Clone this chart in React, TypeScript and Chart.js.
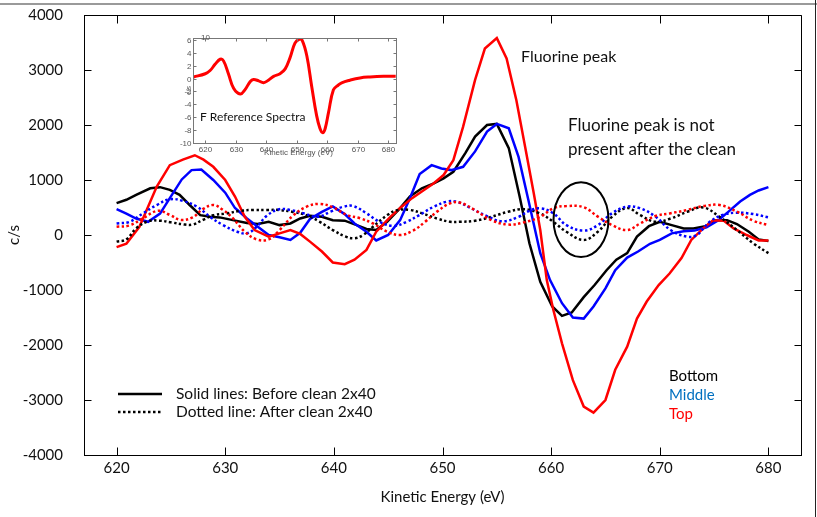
import React, { useEffect, useRef } from "react";
import { Chart, registerables } from "chart.js";
Chart.register(...registerables);

const FONT = "Lato, 'Open Sans', sans-serif";

// ---------- main chart axes ----------
const X_MIN = 617;
const X_MAX = 683;
const X_TICKS = [620, 630, 640, 650, 660, 670, 680];
const Y_TICKS = [-4000, -3000, -2000, -1000, 0, 1000, 2000, 3000, 4000];

// ---------- solid lines: before clean ----------
const topBeforeE = [620, 620.9, 622.1, 623.7, 624.9, 626.1, 627.2, 628, 628.9, 630, 630.9, 631.8, 632.7, 634, 635, 636, 636.9, 637.8, 638.9, 639.9, 641, 641.9, 643, 643.9, 645.2, 646.1, 647.2, 648.1, 649.2, 650.1, 651, 651.9, 653, 653.9, 655, 655.9, 656.8, 657.6, 658.4, 659, 659.6, 660.2, 661, 662, 663, 663.9, 665, 665.9, 667, 667.9, 668.8, 669.9, 670.9, 672, 672.9, 674, 674.9, 675.9, 676.8, 678, 679.1, 680];
const topBefore = [-220, -160, 150, 880, 1270, 1370, 1450, 1370, 1240, 1000, 700, 330, 90, -30, 30, 90, 20, -120, -300, -500, -530, -450, -270, 60, 330, 490, 670, 790, 940, 1090, 1360, 1970, 2820, 3390, 3580, 3210, 2450, 1610, 760, 90, -820, -1360, -1970, -2640, -3120, -3230, -3000, -2450, -2030, -1520, -1210, -910, -700, -420, -90, 120, 270, 260, 120, 0, -100, -100];

const bottomBeforeE = [620, 620.9, 621.8, 623.1, 624, 624.9, 625.8, 626.7, 627.7, 628.6, 629.5, 630.7, 632, 633, 634, 635, 636, 636.9, 637.8, 638.9, 639.9, 641, 642.1, 643, 643.9, 644.9, 646.1, 647, 648.1, 649.2, 650.1, 651, 652.1, 653, 654.1, 655, 656.1, 657.1, 658, 659, 660.1, 661, 661.9, 663, 664, 665.1, 666, 667, 667.9, 669, 670, 671.1, 672.2, 673.1, 674.2, 675.1, 676.2, 677.1, 678.2, 679.1, 680];
const bottomBefore = [580, 640, 730, 850, 870, 820, 730, 550, 360, 330, 320, 270, 220, 200, 240, 180, 210, 300, 350, 330, 270, 260, 180, 110, 90, 240, 490, 700, 850, 940, 1030, 1150, 1490, 1790, 2000, 2020, 1580, 700, -150, -850, -1300, -1470, -1410, -1130, -910, -640, -450, -330, -30, 160, 240, 180, 120, 120, 160, 270, 270, 200, 60, -80, -110];

const middleBeforeE = [620, 620.9, 621.8, 622.9, 624, 624.9, 626, 626.9, 627.8, 628.9, 630, 630.9, 632, 633, 634, 635, 636, 636.9, 637.8, 638.9, 639.9, 641, 641.9, 643, 643.9, 645, 646.1, 647, 647.9, 649, 649.9, 650.8, 651.9, 653, 654.1, 655, 656.1, 657, 657.9, 659, 659.9, 661, 662, 663, 663.9, 665, 665.9, 667, 668, 669.1, 670, 671.1, 672.2, 673.2, 674.3, 675.4, 676.3, 677.4, 678.3, 679.1, 680];
const middleBefore = [470, 390, 300, 240, 390, 670, 1010, 1180, 1190, 1000, 770, 490, 300, 150, 0, -40, -90, 40, 290, 420, 520, 380, 210, 60, -100, 0, 270, 670, 1110, 1270, 1210, 1180, 1240, 1520, 1880, 2020, 1940, 1420, 640, -330, -820, -1240, -1500, -1520, -1300, -970, -640, -410, -300, -160, -90, 30, 70, 80, 140, 270, 420, 610, 730, 810, 870];

// ---------- dotted lines: after clean ----------
const topAfterE = [620, 621.2, 622.4, 623.8, 624.9, 625.9, 627, 627.9, 628.9, 629.8, 630.7, 631.8, 632.9, 634, 635, 636.2, 637.5, 638.7, 639.9, 641.2, 642.4, 643.6, 644.9, 646.1, 647.3, 648.4, 649.5, 650.7, 651.6, 653, 654.5, 656, 657.5, 659, 660.2, 661.4, 663, 664.3, 665.6, 667, 668.2, 669.6, 671, 672.5, 674, 675.5, 677.1, 678.6, 680];
const topAfter = [150, 175, 300, 440, 365, 275, 320, 465, 545, 455, 305, 60, -80, -80, 90, 345, 515, 565, 505, 365, 305, 210, 60, 0, 80, 240, 425, 575, 590, 450, 270, 190, 230, 330, 485, 525, 505, 335, 180, 90, 210, 345, 395, 455, 525, 545, 425, 260, 180];

const bottomAfterE = [620, 620.9, 621.8, 622.9, 624, 625, 626.3, 627, 628, 628.9, 630.1, 631.4, 632.6, 633.8, 635, 636.2, 637.5, 638.7, 639.9, 641.1, 641.9, 642.7, 643.6, 644.9, 645.8, 647, 648.2, 649.5, 650.7, 651.6, 653, 654.5, 656, 657.5, 659, 660.2, 661.4, 663, 664.3, 665.6, 667, 668.2, 669.6, 671, 672.5, 674, 675.5, 677.1, 678.6, 680];
const bottomAfter = [-120, -80, 120, 250, 260, 230, 190, 190, 280, 360, 390, 440, 455, 455, 455, 420, 360, 240, 90, -30, -60, 0, 150, 360, 450, 455, 390, 300, 240, 240, 260, 330, 420, 470, 390, 240, 60, -90, 60, 330, 490, 360, 240, 300, 420, 500, 330, 90, -150, -330];

const middleAfterE = [620, 621.2, 622.4, 623.7, 624.9, 626.1, 627.4, 628.6, 629.8, 631.1, 632, 632.9, 633.8, 634.9, 636, 637.2, 638.5, 639.7, 640.9, 641.8, 643, 644.2, 645.5, 646.7, 647.9, 649.2, 650.4, 651.3, 652.5, 654, 655.5, 657, 658, 659, 660.2, 661.4, 663, 664.3, 665.6, 667, 668.2, 669.6, 671, 672.5, 673.4, 674.6, 675.8, 677.1, 678.6, 680];
const middleAfter = [210, 240, 390, 545, 650, 620, 515, 330, 180, 60, 30, 150, 345, 465, 455, 395, 330, 425, 515, 525, 395, 240, 165, 240, 365, 515, 605, 605, 500, 350, 250, 330, 440, 485, 395, 180, 80, 180, 395, 515, 485, 335, 90, -30, 0, 240, 365, 405, 380, 320];

// ---------- inset: F reference spectra ----------
const INSET_X_MIN = 616;
const INSET_X_MAX = 682.5;
const INSET_Y_MIN = -10;
const INSET_Y_MAX = 6.3;
const INSET_X_TICKS = [620, 630, 640, 650, 660, 670, 680];
const INSET_Y_TICKS = [-10, -8, -6, -4, -2, 0, 2, 4, 6];
const refE = [616.2, 620, 621.6, 623.3, 624.9, 626, 627.6, 629.3, 631.5, 633, 634.7, 635.8, 637.5, 639.1, 640.7, 642.4, 644.5, 646.2, 647.8, 649.4, 650.8, 651.8, 653.3, 654.9, 656.5, 657.6, 658.5, 659.3, 660.4, 662, 663.6, 664.7, 667.4, 670.7, 674, 678.4, 682.4];
const refCps = [0.25, 0.75, 1.25, 2.25, 3.0, 2.75, 0.75, -1.5, -2.4, -1.75, -0.5, -0.15, -0.35, -0.65, -0.25, 0.35, 0.75, 1.5, 3.25, 5.5, 6.1, 5.9, 3.5, -1.25, -5.75, -7.75, -8.4, -7.75, -5.25, -1.75, -1.0, -0.65, -0.25, 0.1, 0.25, 0.35, 0.35];

// ---------- annotations ----------
const ELLIPSE_CENTER = { x: 662.75, y: 280 };
const ELLIPSE_RADIUS = { x: 2.53, y: 680 };

const pts = (xs: number[], ys: number[]) => xs.map((x, i) => ({ x, y: ys[i] }));

const RED = "#ff0000";
const BLUE = "#0000ff";
const BLACK = "#000000";

function solid(label: string, data: any, color: string) {
  return { label, data, borderColor: color, borderWidth: 2.5, pointRadius: 0, tension: 0, fill: false };
}
function dotted(label: string, data: any, color: string) {
  return { label, data, borderColor: color, borderWidth: 2.5, borderDash: [2.5, 2.5], pointRadius: 0, tension: 0.4, fill: false };
}

const mainDecor = {
  id: "mainDecor",
  afterDraw(chart: any) {
    const { ctx, chartArea: a, scales } = chart;
    const x = scales.x;
    const y = scales.y;
    ctx.save();
    // page artefacts
    ctx.fillStyle = "#9a9a9a";
    ctx.fillRect(0, 3, 817, 2);
    ctx.fillStyle = "#222";
    ctx.fillRect(815, 0, 1, 517);

    ctx.strokeStyle = "#000";
    ctx.lineWidth = 1;
    const ln = (x1: number, y1: number, x2: number, y2: number) => {
      ctx.beginPath();
      ctx.moveTo(x1, y1);
      ctx.lineTo(x2, y2);
      ctx.stroke();
    };
    const L = Math.round(a.left) + 0.5;
    const R = Math.round(a.right) + 0.5;
    const T = Math.round(a.top) + 0.5;
    const B = Math.round(a.bottom) + 0.5;
    ln(L, T, R, T);
    ln(R, T, R, B);
    X_TICKS.forEach((v) => {
      const px = Math.round(x.getPixelForValue(v)) + 0.5;
      ln(px, B, px, B - 8);
      ln(px, T, px, T + 8);
    });
    Y_TICKS.forEach((v) => {
      const py = Math.round(y.getPixelForValue(v)) + 0.5;
      ln(L, py, L + 7, py);
      ln(R, py, R - 7, py);
    });

    // ellipse
    const cx = x.getPixelForValue(ELLIPSE_CENTER.x);
    const cy = y.getPixelForValue(ELLIPSE_CENTER.y);
    const rx = Math.abs(x.getPixelForValue(ELLIPSE_CENTER.x + ELLIPSE_RADIUS.x) - cx);
    const ry = Math.abs(y.getPixelForValue(ELLIPSE_CENTER.y + ELLIPSE_RADIUS.y) - cy);
    ctx.lineWidth = 2;
    ctx.beginPath();
    ctx.ellipse(cx, cy, rx, ry, 0, 0, Math.PI * 2);
    ctx.stroke();

    // texts
    ctx.textBaseline = "middle";
    ctx.textAlign = "left";
    ctx.fillStyle = "#111";
    ctx.font = `16px ${FONT}`;
    ctx.fillText("Fluorine peak", 521, 57);
    ctx.font = `17px ${FONT}`;
    ctx.fillText("Fluorine peak is not", 568, 126);
    ctx.fillText("present after the clean", 568, 150);

    // legend lines
    ctx.lineWidth = 2.5;
    ctx.strokeStyle = "#000";
    ln(118, 394, 162, 394);
    ctx.setLineDash([2.5, 2.5]);
    ln(118, 412, 162, 412);
    ctx.setLineDash([]);
    ctx.font = `15.5px ${FONT}`;
    ctx.fillStyle = "#111";
    ctx.fillText("Solid lines: Before clean 2x40", 176, 394);
    ctx.fillText("Dotted line: After clean 2x40", 176, 412);

    ctx.font = `15px ${FONT}`;
    ctx.fillStyle = "#000";
    ctx.fillText("Bottom", 669, 376);
    ctx.fillStyle = "#0070C0";
    ctx.fillText("Middle", 669, 395);
    ctx.fillStyle = "#ff0000";
    ctx.fillText("Top", 669, 414);
    ctx.restore();
  },
};

const insetDecor = {
  id: "insetDecor",
  afterDraw(chart: any) {
    const { ctx, chartArea: a, scales } = chart;
    const x = scales.x;
    const y = scales.y;
    ctx.save();
    ctx.strokeStyle = "#777";
    ctx.lineWidth = 1;
    const L = Math.round(a.left) + 0.5;
    const R = Math.round(a.right) + 0.5;
    const T = Math.round(a.top) + 0.5;
    const B = Math.round(a.bottom) + 0.5;
    ctx.strokeRect(L, T, R - L, B - T);
    const ln = (x1: number, y1: number, x2: number, y2: number) => {
      ctx.beginPath();
      ctx.moveTo(x1, y1);
      ctx.lineTo(x2, y2);
      ctx.stroke();
    };
    ctx.fillStyle = "#555";
    ctx.font = `8px 'Liberation Sans', Arial, sans-serif`;
    ctx.textBaseline = "middle";
    INSET_X_TICKS.forEach((v) => {
      const px = Math.round(x.getPixelForValue(v)) + 0.5;
      ln(px, B, px, B - 3);
      ln(px, T, px, T + 3);
      ctx.textAlign = "center";
      ctx.fillText(String(v), px, B + 6);
    });
    INSET_Y_TICKS.forEach((v) => {
      const py = Math.round(y.getPixelForValue(v)) + 0.5;
      ln(L, py, L + 3, py);
      ln(R, py, R - 3, py);
      ctx.textAlign = "right";
      ctx.fillText(String(v), L - 2, py);
    });
    ctx.textAlign = "left";
    ctx.fillText("10", a.left + 8, a.top);
    ctx.textAlign = "center";
    ctx.fillText("Kinetic Energy (eV)", (a.left + a.right) / 2 + 4, B + 9);
    ctx.save();
    ctx.translate(a.left - 4, (a.top + a.bottom) / 2);
    ctx.rotate(-Math.PI / 2);
    ctx.font = `7px 'Liberation Sans', Arial, sans-serif`;
    ctx.fillText("c/s", 0, 0);
    ctx.restore();
    ctx.fillStyle = "#111";
    ctx.textAlign = "left";
    ctx.font = `12px ${FONT}`;
    ctx.fillText("F Reference Spectra", a.left + 7, a.top + 79);
    ctx.restore();
  },
};

export default function App() {
  const mainRef = useRef<HTMLCanvasElement>(null);
  const insetRef = useRef<HTMLCanvasElement>(null);

  useEffect(() => {
    const main = new Chart(mainRef.current as HTMLCanvasElement, {
      type: "line",
      data: {
        datasets: [
          dotted("Top after", pts(topAfterE, topAfter), RED),
          dotted("Middle after", pts(middleAfterE, middleAfter), BLUE),
          dotted("Bottom after", pts(bottomAfterE, bottomAfter), BLACK),
          solid("Top before", pts(topBeforeE, topBefore), RED),
          solid("Middle before", pts(middleBeforeE, middleBefore), BLUE),
          solid("Bottom before", pts(bottomBeforeE, bottomBefore), BLACK),
        ] as any,
      },
      options: {
        responsive: false,
        animation: false,
        devicePixelRatio: 1,
        layout: { padding: { top: 15, right: 16, left: 0, bottom: 0 } },
        plugins: { legend: { display: false }, tooltip: { enabled: false } },
        scales: {
          x: {
            type: "linear",
            min: X_MIN,
            max: X_MAX,
            afterBuildTicks: (s: any) => {
              s.ticks = X_TICKS.map((v) => ({ value: v }));
            },
            afterFit: (s: any) => {
              s.height = 62;
              s.paddingLeft = 0;
              s.paddingRight = 0;
            },
            grid: { display: true, drawOnChartArea: false, drawTicks: false },
            border: { display: true, color: "#000", width: 1 },
            ticks: { padding: 4, color: "#111", font: { family: FONT, size: 15 }, maxRotation: 0, callback: (v: any) => String(v) },
            title: { display: true, text: "Kinetic Energy (eV)", color: "#111", font: { family: FONT, size: 15 }, padding: { top: 0, bottom: 11 } },
          },
          y: {
            type: "linear",
            min: -4000,
            max: 4000,
            afterBuildTicks: (s: any) => {
              s.ticks = Y_TICKS.map((v) => ({ value: v }));
            },
            afterFit: (s: any) => {
              s.width = 84;
              s.paddingTop = 0;
              s.paddingBottom = 0;
            },
            grid: { display: true, drawOnChartArea: false, drawTicks: false },
            border: { display: true, color: "#000", width: 1 },
            ticks: { padding: 21, color: "#111", font: { family: FONT, size: 15 }, callback: (v: any) => String(v) },
            title: { display: true, text: "c/s", color: "#111", font: { family: FONT, size: 15 }, padding: { top: 5, bottom: 0 } },
          },
        },
      } as any,
      plugins: [mainDecor],
    });

    const inset = new Chart(insetRef.current as HTMLCanvasElement, {
      type: "line",
      data: {
        datasets: [
          { label: "F reference", data: pts(refE, refCps), borderColor: RED, borderWidth: 3, pointRadius: 0, tension: 0.4, fill: false },
        ] as any,
      },
      options: {
        responsive: false,
        animation: false,
        devicePixelRatio: 1,
        layout: { padding: { left: 23, top: 13, right: 14, bottom: 17 } },
        plugins: { legend: { display: false }, tooltip: { enabled: false } },
        scales: {
          x: { type: "linear", min: INSET_X_MIN, max: INSET_X_MAX, display: false },
          y: { type: "linear", min: INSET_Y_MIN, max: INSET_Y_MAX, display: false },
        },
      } as any,
      plugins: [insetDecor],
    });

    return () => {
      main.destroy();
      inset.destroy();
    };
  }, []);

  return (
    <div style={{ position: "fixed", left: 0, top: 0, width: 817, height: 517, background: "#fff" }}>
      <canvas ref={mainRef} width={817} height={517} style={{ position: "absolute", left: 0, top: 0, width: 817, height: 517 }} />
      <canvas ref={insetRef} width={240} height={135} style={{ position: "absolute", left: 170, top: 25, width: 240, height: 135 }} />
    </div>
  );
}
